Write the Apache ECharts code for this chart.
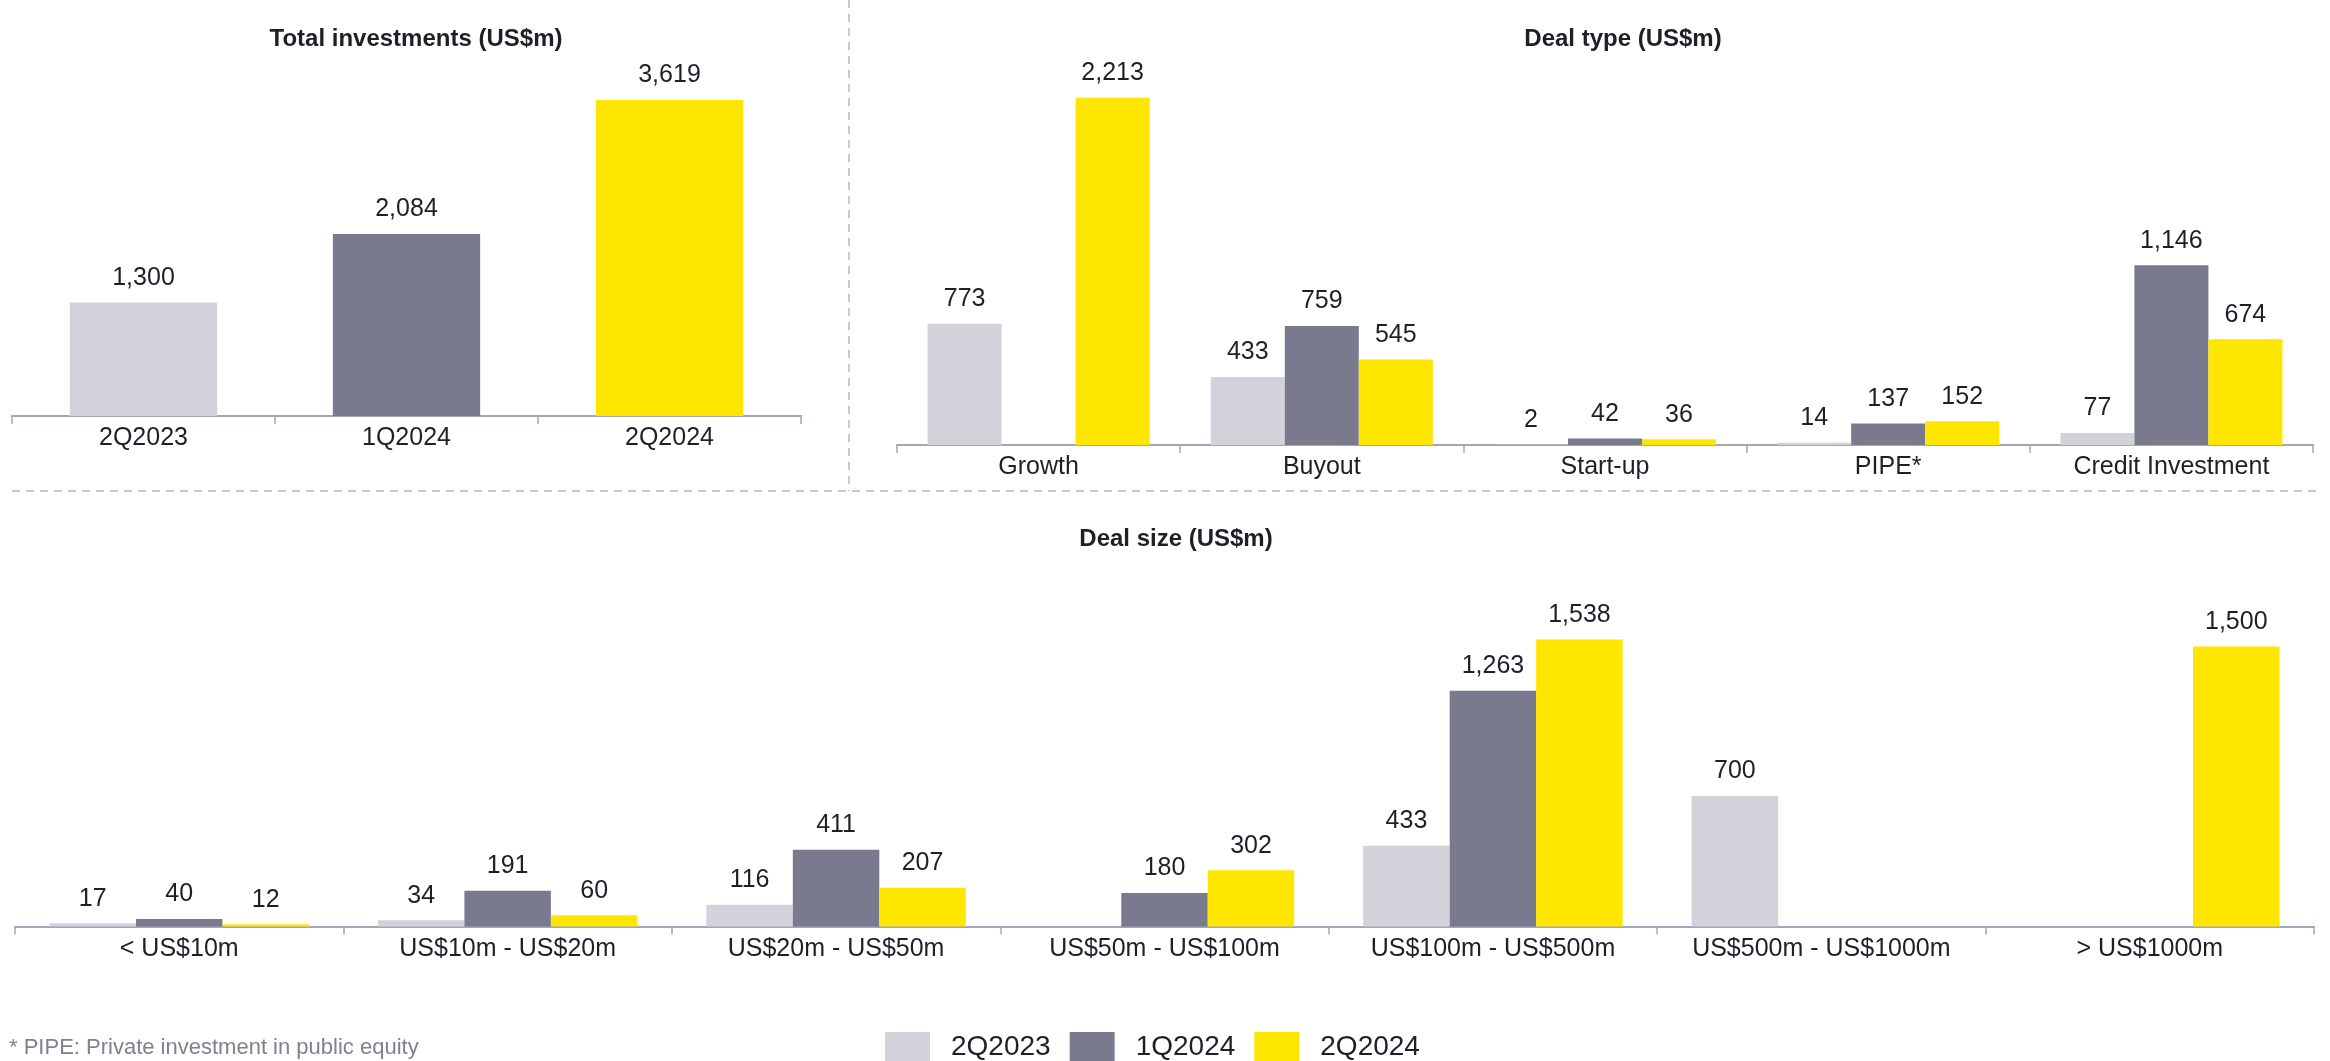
<!DOCTYPE html>
<html>
<head>
<meta charset="utf-8">
<script src="https://cdn.jsdelivr.net/npm/echarts@6/dist/echarts.min.js"></script>
<style>
html,body{margin:0;padding:0;background:#fff;}
#c{width:2330px;height:1061px;}
</style>
</head>
<body>
<div id="c"></div>
<script>
// ---- Data ----
const periods = ['2Q2023', '1Q2024', '2Q2024'];
const totalValues = [1300, 2084, 3619];

const dealTypeCategories = ['Growth', 'Buyout', 'Start-up', 'PIPE*', 'Credit Investment'];
const dealType2Q2023 = [773, 433, 2, 14, 77];
const dealType1Q2024 = [null, 759, 42, 137, 1146];
const dealType2Q2024 = [2213, 545, 36, 152, 674];

const dealSizeCategories = ['< US$10m', 'US$10m - US$20m', 'US$20m - US$50m', 'US$50m - US$100m', 'US$100m - US$500m', 'US$500m - US$1000m', '> US$1000m'];
const dealSize2Q2023 = [17, 34, 116, null, 433, 700, null];
const dealSize1Q2024 = [40, 191, 411, 180, 1263, null, null];
const dealSize2Q2024 = [12, 60, 207, 302, 1538, null, 1500];

const titles = ['Total investments (US$m)', 'Deal type (US$m)', 'Deal size (US$m)'];
const footnote = '* PIPE: Private investment in public equity';

// ---- Styles ----
const colors = ['#D2D2DA', '#7A7A8F', '#FFE600'];
const FONT = '"Liberation Sans", Arial, sans-serif';
const TXT = '#1f1f28';
const AXIS = '#a5a5ba';

const fmt = p => (p.value == null ? '' : Number(p.value).toLocaleString('en-US'));
const labelCfg = {show: true, position: 'top', distance: 12, fontSize: 25, fontFamily: FONT, color: TXT, formatter: fmt};

function xCat(gridIndex, data) {
  return {
    type: 'category', gridIndex, data,
    axisLine: {lineStyle: {color: AXIS, width: 2}},
    axisTick: {show: true, length: 8, lineStyle: {color: AXIS, width: 1.5}},
    axisLabel: {fontSize: 25, fontFamily: FONT, color: TXT, margin: 10, interval: 0}
  };
}
function yVal(gridIndex, max) {
  return {type: 'value', gridIndex, min: 0, max, show: false, splitLine: {show: false}};
}
const titleStyle = {fontSize: 24, fontWeight: 'bold', fontFamily: FONT, color: TXT};

const chart = echarts.init(document.getElementById('c'), null, {renderer: 'canvas'});
const option = {
  animation: false,
  backgroundColor: '#fff',
  title: [
    {text: titles[0], left: 411, top: 22, textAlign: 'center', textStyle: titleStyle},
    {text: titles[1], left: 1618, top: 22, textAlign: 'center', textStyle: titleStyle},
    {text: titles[2], left: 1171, top: 522, textAlign: 'center', textStyle: titleStyle}
  ],
  legend: {
    data: periods,
    left: 885, top: 1032, padding: 0,
    itemWidth: 45, itemHeight: 31, itemGap: 19,
    icon: 'rect',
    formatter: '{t|{name}}',
    textStyle: {
      fontSize: 28, fontFamily: FONT, color: TXT,
      rich: {t: {fontSize: 28, fontFamily: FONT, color: TXT, padding: [0, 0, 0, 16], lineHeight: 28}}
    }
  },
  grid: [
    {left: 12, right: 1529, top: 66.7, bottom: 645},
    {left: 897, right: 17, top: 52.7, bottom: 616},
    {left: 15, right: 16, top: 553.3, bottom: 134.5}
  ],
  xAxis: [xCat(0, periods), xCat(1, dealTypeCategories), xCat(2, dealSizeCategories)],
  yAxis: [yVal(0, 4000), yVal(1, 2500), yVal(2, 2000)],
  series: [
    {
      type: 'bar', name: 'Total', xAxisIndex: 0, yAxisIndex: 0,
      barWidth: '56%',
      data: totalValues.map((v, i) => ({value: v, itemStyle: {color: colors[i]}})),
      label: labelCfg
    },
    ...[dealType2Q2023, dealType1Q2024, dealType2Q2024].map((d, i) => ({
      type: 'bar', name: periods[i], xAxisIndex: 1, yAxisIndex: 1,
      barGap: '0%', barCategoryGap: '21.6%',
      itemStyle: {color: colors[i]}, data: d, label: labelCfg
    })),
    ...[dealSize2Q2023, dealSize1Q2024, dealSize2Q2024].map((d, i) => ({
      type: 'bar', name: periods[i], xAxisIndex: 2, yAxisIndex: 2,
      barGap: '0%', barCategoryGap: '21%',
      itemStyle: {color: colors[i]}, data: d, label: labelCfg
    }))
  ],
  graphic: [
    {type: 'line', shape: {x1: 849, y1: 0, x2: 849, y2: 491}, style: {stroke: '#c9c9d2', lineWidth: 2, lineDash: [8, 6]}},
    {type: 'line', shape: {x1: 12, y1: 491, x2: 2316, y2: 491}, style: {stroke: '#c9c9d2', lineWidth: 2, lineDash: [8, 6]}},
    {type: 'text', left: 9, top: 1037, style: {text: footnote, fontSize: 22, fontFamily: FONT, fill: '#80808f'}}
  ]
};
chart.setOption(option);
</script>
</body>
</html>
